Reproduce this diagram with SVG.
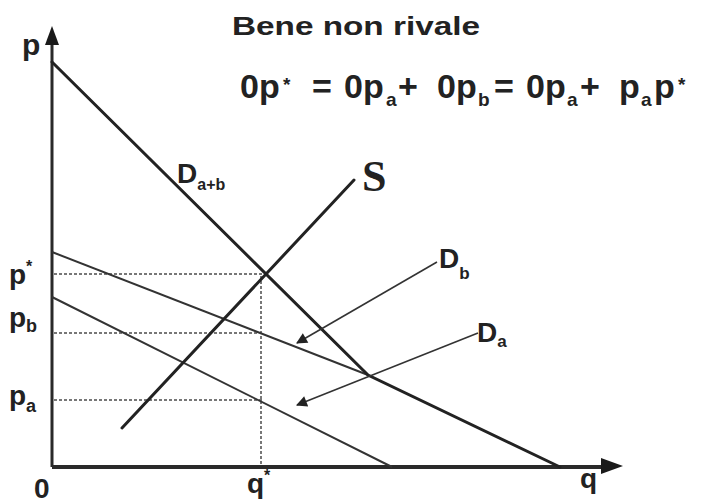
<svg xmlns="http://www.w3.org/2000/svg" width="704" height="504" viewBox="0 0 704 504">
<style>
.ax{stroke:#2a2a2a;stroke-width:3;fill:none}
.thick{stroke:#222;stroke-width:3;fill:none;stroke-linecap:round}
.thin{stroke:#333;stroke-width:2;fill:none}
.dot{stroke:#777;stroke-width:2;stroke-dasharray:3 2;fill:none}
.arr{stroke:#333;stroke-width:1.6;fill:none}
.lab{font-family:"Liberation Sans",Arial,sans-serif;font-weight:bold;fill:#222}
.s{font-family:"Liberation Serif","Times New Roman",serif;font-weight:bold;fill:#222}
.sub{font-size:19px}
</style>
<defs>
<marker id="ah" viewBox="0 0 10 10" refX="9" refY="5" markerWidth="14" markerHeight="11" orient="auto" markerUnits="userSpaceOnUse">
<path d="M0,0 L10,5 L0,10 z" fill="#222"/>
</marker>
</defs>
<rect width="704" height="504" fill="#ffffff"/>
<g id="axes">
<line class="ax" x1="52" y1="44" x2="52" y2="467"/>
<polygon points="52,26 45,45 59,45" fill="#1a1a1a"/>
<line class="ax" x1="52" y1="467" x2="602" y2="467" style="stroke-width:4"/>
<polygon points="623,466 601,458 601,474" fill="#1a1a1a"/>
</g>
<g id="connectors">
<line class="dot" x1="54" y1="274" x2="263" y2="274"/>
<line class="dot" x1="54" y1="333" x2="258" y2="333"/>
<line class="dot" x1="54" y1="400" x2="262" y2="400"/>
<line class="dot" x1="261" y1="276" x2="261" y2="465"/>
<line class="thin" x1="52" y1="252" x2="368" y2="375"/>
<line class="thin" x1="52" y1="297" x2="392" y2="467"/>
<polyline class="thick" points="52,62 368,375 560,467"/>
<line class="thick" x1="122" y1="428" x2="354" y2="180"/>
<line class="arr" x1="437" y1="262" x2="297" y2="343" marker-end="url(#ah)"/>
<line class="arr" x1="478" y1="333" x2="297" y2="405" marker-end="url(#ah)"/>
</g>
<g id="title">
<text class="lab" x="232" y="35" font-size="26" textLength="248" lengthAdjust="spacingAndGlyphs">Bene non rivale</text>
</g>
<g id="equation">
<text class="lab" font-size="34"><tspan x="240" y="98">0p</tspan><tspan class="sub" x="283" y="91">*</tspan><tspan x="312" y="98">=</tspan><tspan x="344" y="98">0p</tspan><tspan class="sub" x="386" y="106">a</tspan><tspan x="398" y="98">+</tspan><tspan x="437" y="98">0p</tspan><tspan class="sub" x="478" y="106">b</tspan><tspan x="494" y="98">=</tspan><tspan x="526" y="98">0p</tspan><tspan class="sub" x="567" y="106">a</tspan><tspan x="580" y="98">+</tspan><tspan x="619" y="98">p</tspan><tspan class="sub" x="641" y="106">a</tspan><tspan x="654" y="98">p</tspan><tspan class="sub" x="678" y="91">*</tspan></text>
</g>
<g id="labels">
<text class="lab" x="22" y="55" font-size="30">p</text>
<text class="lab" x="9" y="284" font-size="28">p<tspan font-size="16" dy="-12">*</tspan></text>
<text class="lab" x="9" y="327" font-size="28">p<tspan font-size="18" dy="5">b</tspan></text>
<text class="lab" x="9" y="405" font-size="28">p<tspan font-size="18" dy="7">a</tspan></text>
<text class="lab" x="34" y="498" font-size="28">0</text>
<text class="lab" x="247" y="493" font-size="28">q<tspan font-size="16" dy="-12">*</tspan></text>
<text class="lab" x="580" y="488" font-size="28">q</text>
</g>
<g id="Dab">
<text class="lab" x="177" y="183" font-size="28">D<tspan font-size="16" dy="7">a+b</tspan></text>
</g>
<g id="S">
<text class="s" x="362" y="191" font-size="44">S</text>
</g>
<g id="Db">
<text class="lab" x="439" y="268" font-size="28">D<tspan font-size="17" dy="11">b</tspan></text>
</g>
<g id="Da">
<text class="lab" x="477" y="342" font-size="28">D<tspan font-size="17" dy="5">a</tspan></text>
</g>
</svg>
